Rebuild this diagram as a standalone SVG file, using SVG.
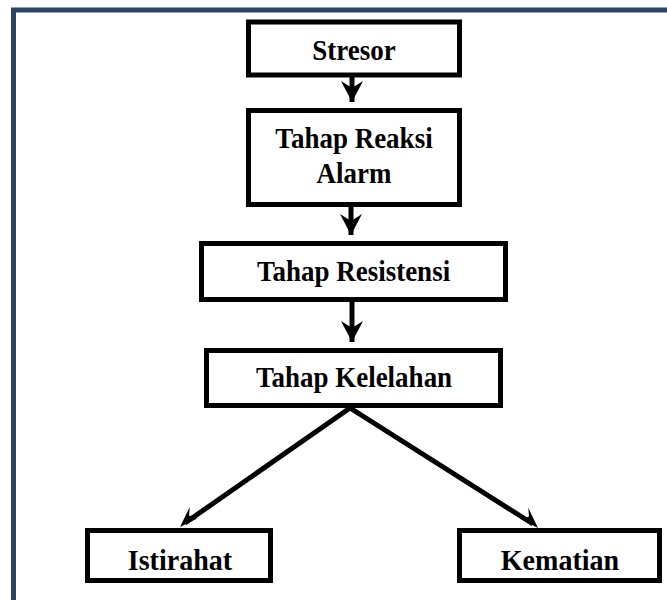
<svg xmlns="http://www.w3.org/2000/svg" width="667" height="600" viewBox="0 0 667 600">
<defs>
<style>
.frame{fill:none;stroke:#2b4566;stroke-width:5}
.box{fill:#fff;stroke:#000;stroke-width:5}
.lbl{font-family:"Liberation Serif","Times New Roman",serif;font-weight:bold;font-size:27px;fill:#000;text-anchor:middle}
.conn{stroke:#000;stroke-width:5;fill:none}
</style>
<marker id="ah" markerUnits="userSpaceOnUse" viewBox="-22 -12 24 24" refX="0" refY="0" markerWidth="24" markerHeight="24" orient="auto">
<path d="M0,0 L-21,-11 L-14,0 L-21,11 Z" fill="#000"/>
</marker>
</defs>
<rect width="667" height="600" fill="#fff"/>
<rect class="frame" x="13.5" y="10" width="700" height="700"/>
<g id="connectors">
<line class="conn" x1="352" y1="77" x2="352" y2="102" marker-end="url(#ah)"/>
<line class="conn" x1="351" y1="207" x2="351" y2="235" marker-end="url(#ah)"/>
<line class="conn" x1="352" y1="302" x2="352" y2="342" marker-end="url(#ah)"/>
<polyline class="conn" points="185,523 350,408 533,524" stroke-linejoin="miter"/>
<path d="M180,527 L189.8,506.9 L189,515.5 L197.1,518.4 Z" fill="#000"/>
<path d="M538,528 L528.3,507.8 L529,516.4 L520.9,519.2 Z" fill="#000"/>
</g>
<g id="stresor">
<rect class="box" x="248.5" y="22" width="211" height="53"/>
<text class="lbl" transform="translate(354,60) scale(1,1.12)">Stresor</text>
</g>
<g id="alarm">
<rect class="box" x="248.5" y="110.5" width="211" height="94"/>
<text class="lbl" transform="translate(354,148) scale(1,1.12)">Tahap Reaksi</text>
<text class="lbl" transform="translate(354,183) scale(1,1.12)">Alarm</text>
</g>
<g id="resistensi">
<rect class="box" x="201.5" y="243.5" width="304" height="56"/>
<text class="lbl" transform="translate(353.5,281) scale(1,1.12)">Tahap Resistensi</text>
</g>
<g id="kelelahan">
<rect class="box" x="206.5" y="350.5" width="294" height="55"/>
<text class="lbl" transform="translate(354,387) scale(1,1.12)">Tahap Kelelahan</text>
</g>
<g id="istirahat">
<rect class="box" x="87.5" y="530.5" width="183" height="50"/>
<text class="lbl" transform="translate(180,570) scale(1.04,1.12)">Istirahat</text>
</g>
<g id="kematian">
<rect class="box" x="459.5" y="530.5" width="200" height="50"/>
<text class="lbl" transform="translate(560,570) scale(1.04,1.12)">Kematian</text>
</g>
</svg>
